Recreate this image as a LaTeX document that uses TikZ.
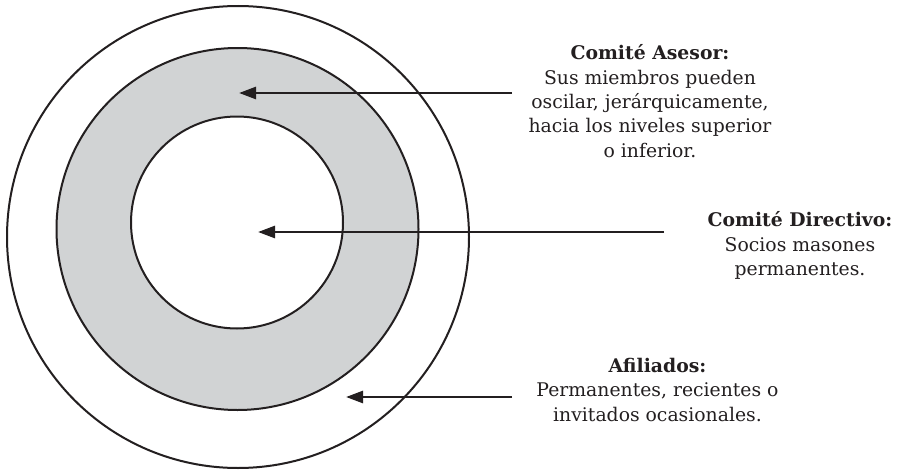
\documentclass[tikz,border=0pt]{standalone}
\usepackage{fontspec}
\setmainfont{DejaVu Serif}
\usetikzlibrary{arrows.meta}
\definecolor{ringgray}{RGB}{209,211,212}
\definecolor{inkblack}{RGB}{35,31,32}
\tikzset{
  ring/.style={draw=inkblack, line width=2pt},
  pointer/.style={draw=inkblack, line width=2.6pt, -{Triangle[length=17pt,width=12pt]}},
  label/.style={align=center, anchor=base, inner sep=0pt, text=inkblack,
    font=\fontsize{18.8}{24.3}\selectfont}
}
\begin{document}
\begin{tikzpicture}[x=1pt,y=-1pt]
\useasboundingbox (0,0) rectangle (902,471);
% circles
\draw[ring, fill=white] (238,237) circle[radius=231];
\draw[ring, fill=ringgray] (237.5,229) circle[radius=181];
\draw[ring, fill=white] (237,222.5) circle[radius=106];
% labels (anchor = baseline of the last line)
\node[label] (asesor) at (650,157) {\textbf{Comité Asesor:}\\Sus miembros pueden\\oscilar, jerárquicamente,\\hacia los niveles superior\\o inferior.};
\node[label] (directivo) at (800,275.5) {\textbf{Comité Directivo:}\\Socios masones\\permanentes.};
\node[label] (afiliados) at (657.5,421) {\textbf{Afiliados:}\\Permanentes, recientes o\\invitados ocasionales.};
% arrow ends
\coordinate (a1) at (512,93);
\coordinate (t1) at (239,93);
\coordinate (a2) at (664,232);
\coordinate (t2) at (258,232);
\coordinate (a3) at (512,397);
\coordinate (t3) at (346,397);
\draw[pointer] (a1) -- (t1);
\draw[pointer] (a2) -- (t2);
\draw[pointer] (a3) -- (t3);
\end{tikzpicture}
\end{document}
